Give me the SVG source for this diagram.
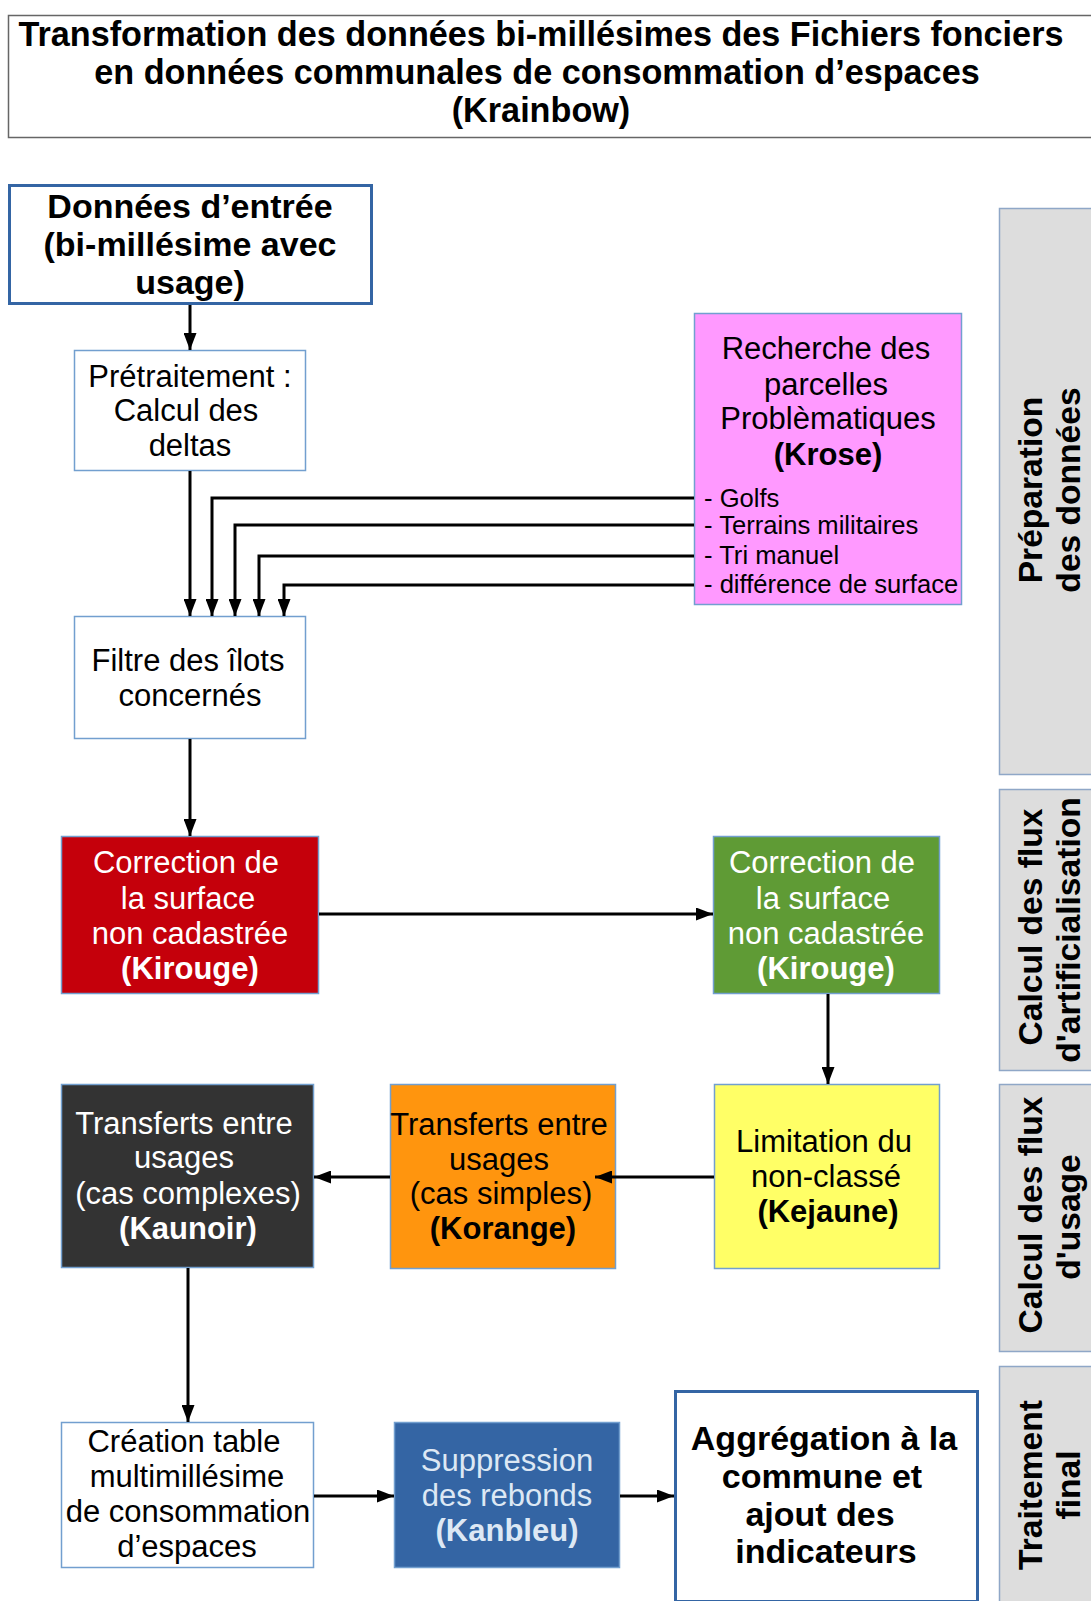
<svg xmlns="http://www.w3.org/2000/svg" width="1091" height="1601" viewBox="0 0 1091 1601">
<style>
text{font-family:"Liberation Sans",Arial,sans-serif;}
.t{font-size:31px;text-anchor:middle;fill:#000;}
.w{fill:#fff;}
.b{font-weight:bold;}
.big{font-size:34px;font-weight:bold;text-anchor:middle;fill:#000;}
.lst{font-size:25.6px;fill:#000;}
.pan{font-size:33.6px;font-weight:bold;text-anchor:middle;fill:#000;}
.box{stroke:#729fcf;stroke-width:1.5;}
.panel{fill:#dddddd;stroke:#8fa7c7;stroke-width:1.5;}
.con{fill:none;stroke:#000;stroke-width:3;marker-end:url(#ah);}
</style>
<defs>
<marker id="ah" markerUnits="userSpaceOnUse" markerWidth="17" markerHeight="13" refX="17" refY="6.5" orient="auto">
<path d="M0,0 L17,6.5 L0,13 z" fill="#000"/>
</marker>
</defs>
<rect x="0" y="0" width="1091" height="1601" fill="#fff"/>

<g id="title">
<rect x="8.5" y="15.5" width="1090" height="122" fill="#fff" stroke="#666" stroke-width="1.5"/>
<text class="big" x="541" y="46" style="font-size:34.2px">Transformation des données bi-millésimes des Fichiers fonciers</text>
<text class="big" x="537" y="84" style="font-size:34.2px">en données communales de consommation d’espaces</text>
<text class="big" x="541" y="122" style="font-size:34.2px">(Krainbow)</text>
</g>

<g id="donnees">
<rect x="9.5" y="185.5" width="362" height="118" fill="#fff" stroke="#3465a4" stroke-width="3"/>
<text class="big" x="190" y="218">Données d’entrée</text>
<text class="big" x="190" y="256">(bi-millésime avec</text>
<text class="big" x="190" y="294">usage)</text>
</g>

<g id="pretraitement">
<rect class="box" x="74.5" y="350.5" width="231" height="120" fill="#fff"/>
<text class="t" x="190" y="387">Prétraitement :</text>
<text class="t" x="186" y="421">Calcul des</text>
<text class="t" x="190" y="456">deltas</text>
</g>

<g id="krose">
<rect class="box" x="694.5" y="313.5" width="267" height="291" fill="#ff99ff"/>
<text class="t" x="826" y="359">Recherche des</text>
<text class="t" x="826" y="395">parcelles</text>
<text class="t" x="828" y="429">Problèmatiques</text>
<text class="t b" x="828" y="465">(Krose)</text>
<text class="lst" x="704" y="507">- Golfs</text>
<text class="lst" x="704" y="534">- Terrains militaires</text>
<text class="lst" x="704" y="564">- Tri manuel</text>
<text class="lst" x="704" y="593">- différence de surface</text>
</g>

<g id="filtre">
<rect class="box" x="74.5" y="616.5" width="231" height="122" fill="#fff"/>
<text class="t" x="188" y="671">Filtre des îlots</text>
<text class="t" x="190" y="706">concernés</text>
</g>

<g id="kirouge1">
<rect class="box" x="61.5" y="836.5" width="257" height="157" fill="#c5000b"/>
<text class="t w" x="186" y="873">Correction de</text>
<text class="t w" x="188" y="909">la surface</text>
<text class="t w" x="190" y="944">non cadastrée</text>
<text class="t w b" x="190" y="979">(Kirouge)</text>
</g>

<g id="kirouge2">
<rect class="box" x="713.5" y="836.5" width="226" height="157" fill="#5f9b35"/>
<text class="t w" x="822" y="873">Correction de</text>
<text class="t w" x="823" y="909">la surface</text>
<text class="t w" x="826" y="944">non cadastrée</text>
<text class="t w b" x="826" y="979">(Kirouge)</text>
</g>

<g id="kejaune">
<rect class="box" x="714.5" y="1084.5" width="225" height="184" fill="#ffff66"/>
<text class="t" x="824" y="1152">Limitation du</text>
<text class="t" x="826" y="1187">non-classé</text>
<text class="t b" x="828" y="1222">(Kejaune)</text>
</g>

<g id="korange">
<rect class="box" x="390.5" y="1084.5" width="225" height="184" fill="#ff950e"/>
<text class="t" x="499" y="1135">Transferts entre</text>
<text class="t" x="499" y="1170">usages</text>
<text class="t" x="501" y="1204">(cas simples)</text>
<text class="t b" x="503" y="1239">(Korange)</text>
</g>

<g id="kaunoir">
<rect class="box" x="61.5" y="1084.5" width="252" height="183" fill="#333333"/>
<text class="t w" x="184" y="1134">Transferts entre</text>
<text class="t w" x="184" y="1168">usages</text>
<text class="t w" x="188" y="1204">(cas complexes)</text>
<text class="t w b" x="188" y="1239">(Kaunoir)</text>
</g>

<g id="creation">
<rect class="box" x="61.5" y="1422.5" width="252" height="145" fill="#fff"/>
<text class="t" x="184" y="1452">Création table</text>
<text class="t" x="187" y="1487">multimillésime</text>
<text class="t" x="188" y="1522">de consommation</text>
<text class="t" x="187" y="1557">d’espaces</text>
</g>

<g id="kanbleu">
<rect class="box" x="394.5" y="1422.5" width="225" height="145" fill="#3465a4"/>
<text class="t" x="507" y="1471" style="fill:#dde8f4">Suppression</text>
<text class="t" x="507" y="1506" style="fill:#dde8f4">des rebonds</text>
<text class="t b" x="507" y="1541" style="fill:#dde8f4">(Kanbleu)</text>
</g>

<g id="aggregation">
<rect x="675.5" y="1391.5" width="302" height="210" fill="#fff" stroke="#3465a4" stroke-width="3"/>
<text class="big" x="824" y="1450">Aggrégation à la</text>
<text class="big" x="822" y="1488">commune et</text>
<text class="big" x="820" y="1526">ajout des</text>
<text class="big" x="826" y="1563">indicateurs</text>
</g>

<g id="connectors">
<path class="con" d="M190 305 V350"/>
<path class="con" d="M190 471 V616"/>
<path class="con" d="M694 498 H212 V616"/>
<path class="con" d="M694 525 H235 V616"/>
<path class="con" d="M694 556 H259 V616"/>
<path class="con" d="M694 585 H284 V616"/>
<path class="con" d="M190 739 V836"/>
<path class="con" d="M319 914 H713"/>
<path class="con" d="M828 994 V1084"/>
<path class="con" d="M714 1177 H595"/>
<path class="con" d="M390 1177 H314"/>
<path class="con" d="M188 1268 V1422"/>
<path class="con" d="M314 1496 H394"/>
<path class="con" d="M620 1496 H674"/>
</g>

<g id="panel-preparation">
<rect class="panel" x="999.5" y="208.5" width="100" height="566"/>
<text class="pan" transform="rotate(-90)" x="-490" y="1042">Préparation</text>
<text class="pan" transform="rotate(-90)" x="-490" y="1080">des données</text>
</g>

<g id="panel-artif">
<rect class="panel" x="999.5" y="789.5" width="100" height="281"/>
<text class="pan" transform="rotate(-90)" x="-927" y="1042">Calcul des flux</text>
<text class="pan" transform="rotate(-90)" x="-930" y="1080">d'artificialisation</text>
</g>

<g id="panel-usage">
<rect class="panel" x="999.5" y="1084.5" width="100" height="267"/>
<text class="pan" transform="rotate(-90)" x="-1215" y="1042">Calcul des flux</text>
<text class="pan" transform="rotate(-90)" x="-1217" y="1080">d'usage</text>
</g>

<g id="panel-final">
<rect class="panel" x="999.5" y="1366.5" width="100" height="240"/>
<text class="pan" transform="rotate(-90)" x="-1485" y="1042">Traitement</text>
<text class="pan" transform="rotate(-90)" x="-1485" y="1080">final</text>
</g>
</svg>
